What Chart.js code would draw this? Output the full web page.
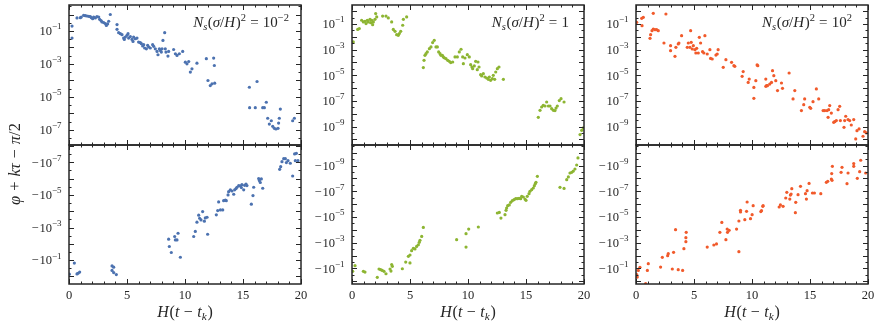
<!DOCTYPE html>
<html><head><meta charset="utf-8">
<script src="https://cdn.jsdelivr.net/npm/chart.js@4.4.0/dist/chart.umd.min.js"></script>
<style>
html,body{margin:0;padding:0;background:#fff;}
#wrap{position:relative;width:881px;height:328px;overflow:hidden;}
#wrap canvas{position:absolute;left:0;top:0;}
</style></head><body>
<div id="wrap">
<canvas id="c0" width="881" height="328"></canvas>
<canvas id="c1" width="881" height="328"></canvas>
<canvas id="c2" width="881" height="328"></canvas>
<canvas id="c3" width="881" height="328"></canvas>
<canvas id="c4" width="881" height="328"></canvas>
<canvas id="c5" width="881" height="328"></canvas>
</div>
<script>
// ---------------- DATA ----------------
// x = H(t - t_k); values below are log10 of (φ + kτ − π/2) for the upper row,
// and log10 of |φ + kτ − π/2| (negative branch) for the lower row.

// N_s(σ/H)^2 = 10^-2  (blue)
const hBlueUpper = [0.26,0.26,0.69,0.98,1.06,1.26,1.41,1.55,1.70,1.84,1.93,2.04,2.13,2.27,2.41,2.56,2.64,2.76,2.84,2.99,3.13,3.22,3.33,3.42,3.56,4.14,4.14,4.28,4.43,4.57,4.71,4.77,4.86,5.00,5.09,5.14,5.29,5.43,5.52,5.57,5.72,5.86,6.00,6.15,6.24,6.35,6.44,6.52,6.67,6.78,6.87,7.01,7.21,7.30,7.44,7.59,7.67,7.79,7.87,7.96,8.02,8.10,8.25,8.30,8.36,8.53,8.59,9.02,9.17,9.31,9.51,9.80,10.03,10.17,10.32,10.46,10.60,11.03,11.84,11.98,12.18,12.33,12.47,12.53,12.56,15.55,15.57,16.06,16.21,16.70,16.84,17.01,17.13,17.27,17.44,17.56,17.70,17.84,18.02,18.07,18.13,18.22,19.28,19.43];
const expBlueUpper = [-1.43,-0.70,-0.21,-0.19,-0.15,-0.05,-0.07,-0.09,-0.11,-0.13,-0.19,-0.25,-0.15,-0.21,-0.13,-0.15,-0.29,-0.37,-0.45,-0.49,-0.55,-0.66,-0.57,-0.41,0.0,-0.61,-0.90,-1.10,-1.16,-1.22,-1.43,-1.51,-1.37,-1.26,-1.16,-1.43,-1.34,-1.51,-1.63,-1.37,-1.47,-1.43,-1.67,-1.71,-1.77,-1.91,-1.83,-2.03,-2.08,-1.87,-1.97,-2.03,-1.83,-1.93,-2.08,-2.24,-2.44,-2.08,-2.18,-2.28,-2.08,-1.57,-1.10,-2.08,-2.28,-2.52,-2.24,-2.12,-2.38,-2.48,-2.38,-2.24,-2.89,-2.99,-2.85,-3.49,-3.29,-2.95,-2.68,-4.00,-4.31,-4.20,-2.64,-3.09,-4.16,-4.41,-5.65,-5.65,-4.06,-5.65,-5.65,-5.32,-6.29,-6.64,-6.44,-6.78,-6.90,-6.94,-6.90,-6.58,-6.29,-5.73,-6.44,-6.29];
const hBlueLower = [0.03,0.46,0.69,0.78,0.92,3.71,3.85,3.71,3.85,4.08,8.59,8.65,8.82,9.11,9.17,9.31,9.40,9.60,10.75,10.89,11.03,11.18,11.26,11.38,11.52,11.67,11.75,11.90,11.95,12.70,12.82,12.90,13.05,13.25,13.33,13.48,13.56,13.71,13.76,13.91,14.05,14.20,14.28,14.40,14.48,14.63,14.77,14.86,14.91,15.06,15.14,15.26,15.34,15.72,15.86,15.92,16.35,16.41,16.49,16.58,16.70,18.16,18.25,18.36,18.51,18.65,18.74,18.88,19.08,19.28,19.45,19.60,19.51,19.74];
const expBlueLower = [-0.14,-0.82,-0.16,-0.20,-0.27,-0.65,-0.57,-0.37,-0.24,-0.12,-2.29,-1.84,-1.47,-2.45,-2.24,-2.24,-2.65,-1.18,-2.45,-2.76,-3.33,-3.76,-3.57,-3.47,-3.98,-3.39,-3.59,-3.63,-2.59,-3.78,-4.04,-4.57,-4.08,-4.08,-4.65,-4.69,-4.65,-5.00,-5.20,-5.31,-5.24,-5.04,-5.31,-5.39,-5.47,-5.57,-5.55,-5.45,-5.63,-5.31,-5.59,-5.67,-5.57,-4.43,-4.96,-5.47,-6.00,-5.88,-5.76,-5.98,-5.41,-6.57,-6.73,-7.04,-7.22,-7.22,-6.98,-7.10,-6.94,-6.16,-7.51,-7.55,-7.10,-7.10];

// N_s(σ/H)^2 = 1  (green)
const hGreenUpper = [0.11,0.49,0.63,0.83,0.98,1.12,1.21,1.32,1.40,1.55,1.61,1.70,1.78,1.84,1.98,2.04,2.13,2.64,2.93,3.13,3.42,3.56,3.71,3.85,3.99,4.08,4.20,4.37,4.43,4.71,6.15,6.21,6.29,6.38,6.49,6.67,6.81,6.95,7.09,7.24,7.36,7.47,7.59,7.67,7.79,7.87,7.96,8.10,8.25,8.39,8.51,8.68,8.88,9.08,9.25,9.40,9.54,9.60,9.74,9.94,10.11,10.23,10.34,10.40,10.54,10.66,10.80,10.86,10.95,11.09,11.18,11.32,11.46,11.61,11.75,11.84,11.95,12.10,12.18,12.30,12.39,12.53,12.67,13.05,16.06,16.21,16.35,16.49,16.64,16.78,16.93,17.07,17.21,17.36,17.50,17.59,17.70,17.87,18.02,18.28,19.66,19.80,19.94];
const expGreenUpper = [-2.40,-1.42,-1.36,-0.71,-0.84,-0.79,-0.97,-0.71,-0.84,-0.64,-0.90,-0.71,-1.05,-0.84,-0.64,-0.19,-0.45,-0.38,-0.38,-0.53,-0.84,-1.42,-1.57,-1.83,-1.88,-1.75,-1.57,-1.10,-0.64,-0.45,-4.40,-3.83,-3.44,-3.31,-3.18,-2.92,-2.79,-2.45,-2.27,-2.79,-2.79,-3.18,-3.31,-3.44,-3.44,-3.57,-3.64,-3.70,-3.83,-3.91,-4.01,-3.96,-3.57,-3.57,-3.18,-2.97,-3.57,-4.09,-3.65,-3.39,-3.57,-4.17,-4.35,-4.48,-4.27,-3.91,-4.56,-3.96,-4.35,-4.95,-5.05,-4.87,-5.13,-5.21,-5.31,-5.13,-5.39,-5.26,-5.00,-5.31,-4.74,-4.48,-4.35,-5.31,-8.27,-7.73,-7.47,-7.34,-7.39,-7.08,-7.39,-7.39,-7.60,-7.73,-7.75,-7.55,-7.39,-6.97,-6.82,-7.08,-9.62,-9.29,-9.10];
const hGreenLower = [0.06,0.26,0.98,1.12,2.18,2.33,2.47,2.61,2.76,2.93,3.28,3.36,3.42,3.48,4.34,4.63,5.00,4.86,5.00,5.14,5.29,5.43,5.57,5.72,5.80,5.86,6.01,6.15,9.02,9.83,9.83,10.06,10.89,12.53,12.70,12.84,13.19,13.28,13.33,13.42,13.56,13.68,13.82,13.97,14.11,14.25,14.40,14.54,14.63,14.77,14.91,15.00,15.11,15.26,15.34,15.49,15.63,15.72,15.80,15.86,15.98,17.93,18.28,18.51,18.65,18.79,18.94,19.08,19.22,19.37,19.48];
const expGreenLower = [-0.77,-1.21,-0.77,-0.71,-0.30,-0.95,-0.90,-0.84,-0.77,-0.58,-0.95,-0.79,-1.29,-1.16,-0.97,-1.49,-1.42,-1.94,-2.04,-2.38,-2.56,-2.51,-2.71,-2.84,-3.03,-3.18,-3.49,-4.19,-3.23,-2.66,-3.70,-4.06,-4.22,-5.31,-5.36,-4.92,-5.18,-5.52,-5.70,-5.88,-5.94,-6.14,-6.27,-6.35,-6.43,-6.43,-6.45,-6.43,-6.61,-6.56,-6.40,-6.30,-6.61,-6.82,-7.00,-7.13,-7.26,-7.44,-7.60,-7.70,-8.17,-7.31,-7.23,-7.91,-8.12,-8.43,-8.48,-8.58,-8.74,-9.05,-9.60];

// N_s(σ/H)^2 = 10^2  (orange)
const hOrangeUpper = [0.06,0.49,0.63,0.52,1.21,1.26,1.38,1.49,1.49,1.64,1.78,1.92,2.58,2.41,2.98,2.98,3.36,3.44,3.64,3.70,3.93,4.42,4.51,4.65,4.71,4.76,4.85,4.94,5.08,5.16,5.23,5.37,5.46,5.57,5.74,5.85,5.94,6.14,6.37,6.43,6.57,6.89,7.00,7.08,7.52,7.75,8.24,8.44,8.52,9.15,9.24,9.67,9.76,10.16,10.16,10.33,10.44,10.50,11.19,11.19,11.25,11.33,11.53,11.68,11.77,11.88,12.05,12.20,12.54,12.63,13.20,13.54,13.69,14.26,14.46,14.54,14.98,15.06,15.26,15.55,15.75,16.13,16.27,16.47,16.56,16.61,16.70,16.84,17.04,17.13,17.27,17.42,17.56,17.62,17.93,17.99,18.08,18.28,18.42,18.56,18.77,18.94,19.05,19.23,19.57,19.71,19.86];
const expOrangeUpper = [-0.87,-0.56,-0.48,-1.13,-2.12,-1.83,-1.52,-0.17,-1.39,-1.44,-1.44,-1.52,-0.22,-2.48,-2.69,-3.08,-3.52,-2.82,-2.56,-2.48,-1.91,-2.82,-2.48,-2.82,-1.52,-2.43,-2.95,-2.69,-3.00,-3.26,-2.90,-3.26,-2.04,-2.48,-3.16,-3.26,-1.91,-3.34,-3.00,-3.68,-3.73,-3.42,-3.34,-3.00,-4.38,-3.78,-3.99,-4.25,-4.30,-5.08,-4.71,-5.55,-5.29,-5.94,-6.79,-5.42,-4.19,-4.25,-5.86,-5.29,-5.81,-5.81,-5.68,-5.55,-4.64,-5.03,-5.42,-6.19,-5.60,-6.01,-4.82,-6.84,-6.19,-7.75,-7.29,-6.84,-7.49,-7.57,-7.05,-6.06,-6.84,-7.75,-7.75,-7.75,-8.27,-7.68,-7.36,-7.94,-8.66,-8.61,-8.53,-7.68,-7.42,-8.53,-9.05,-8.53,-8.19,-8.45,-8.53,-8.87,-8.45,-9.96,-9.31,-9.18,-9.75,-9.39,-9.49];
const hOrangeLower = [0.06,0.11,0.20,0.34,0.98,1.06,0.83,2.12,2.27,2.73,2.78,3.13,3.24,3.41,3.64,4.13,4.30,4.30,4.33,4.02,6.14,6.71,6.94,7.23,7.40,7.75,7.86,7.89,8.03,8.67,8.87,8.87,9.01,9.01,9.38,9.53,9.58,9.87,10.01,10.10,10.76,10.82,10.93,10.96,12.34,12.45,12.68,12.91,13.00,13.26,13.31,13.37,13.43,13.77,13.74,13.97,14.18,14.61,14.69,14.75,14.92,15.21,15.38,15.93,16.41,16.53,16.84,16.87,16.93,16.90,17.68,17.76,18.19,18.28,18.77,18.77,19.08,19.28,19.37,19.80];
const expOrangeLower = [-0.51,-0.32,-0.84,-1.08,-0.84,-1.36,0.19,-1.10,-1.86,-1.99,-2.14,-0.95,-2.25,-4.01,-0.90,-2.53,-3.08,-3.39,-3.81,-0.84,-2.66,-2.82,-2.90,-3.81,-4.58,-3.23,-4.06,-3.81,-3.96,-4.06,-4.69,-2.30,-5.39,-5.52,-4.79,-5.44,-6.17,-4.87,-5.18,-5.88,-5.42,-5.49,-5.83,-5.88,-5.78,-5.94,-5.83,-6.48,-6.92,-6.40,-6.71,-6.79,-7.21,-6.14,-5.34,-6.74,-7.39,-6.82,-6.40,-7.05,-7.62,-6.87,-6.87,-6.82,-7.70,-7.78,-7.96,-8.38,-8.95,-7.86,-8.48,-8.87,-7.60,-8.43,-8.95,-9.16,-8.01,-8.53,-9.42,-8.43];

// Tick labels
const xTickLabels = [0, 5, 10, 15, 20];
const upperTickExpsLeft = [-1, -3, -5, -7];
const upperTickExpsOther = [-1, -3, -5, -7, -9];
const lowerTickExpsLeft = [-7, -5, -3, -1];
const lowerTickExpsOther = [-9, -7, -5, -3, -1];
const noteExponents = ['−2', '', '2'];   // N_s(σ/H)^2 = 10^-2, 1, 10^2

// ---------------- STYLE / LAYOUT ----------------
const FONT = '"Liberation Serif", "DejaVu Serif", serif';
const INK = '#262626';
const COLORS = ['#4c72b0', '#8db532', '#f15a2b'];
const COLS = [[69, 301], [352, 584], [636, 868]];
const ROW_UP = [5, 145], ROW_LO = [145, 284];

// segs: [text, italic, scale, dy(em)] or a number = gap in em
function drawRich(ctx, segs, x, y, align, size) {
  let w = 0;
  const m = segs.map(s => {
    if (typeof s === 'number') { w += s * size; return { gap: s * size }; }
    const fs = size * (s[2] || 1);
    const f = (s[1] ? 'italic ' : '') + fs.toFixed(2) + 'px ' + FONT;
    ctx.font = f;
    const ww = ctx.measureText(s[0]).width;
    w += ww;
    return { t: s[0], f, ww, dy: (s[3] || 0) * size };
  });
  let cx = align === 'right' ? x - w : align === 'center' ? x - w / 2 : x;
  ctx.textBaseline = 'alphabetic';
  ctx.textAlign = 'left';
  m.forEach(s => {
    if (s.gap !== undefined) { cx += s.gap; return; }
    ctx.font = s.f; ctx.fillText(s.t, cx, y + s.dy); cx += s.ww;
  });
  return w;
}

function makeDeco(p) {
  return {
    id: 'deco' + p.id,
    afterDraw(chart) {
      const ctx = chart.ctx, a = chart.chartArea;
      const xs = chart.scales.x, ys = chart.scales.y;
      ctx.save();
      ctx.strokeStyle = INK;
      ctx.fillStyle = INK;
      ctx.lineWidth = 1;
      for (let v = 0; v <= 20; v++) {
        const px = Math.round(xs.getPixelForValue(v)) + 0.5;
        const len = v % 5 === 0 ? 5 : 2.5;
        ctx.beginPath();
        ctx.moveTo(px, a.bottom); ctx.lineTo(px, a.bottom - len);
        ctx.moveTo(px, a.top); ctx.lineTo(px, a.top + len);
        ctx.stroke();
      }
      const e0 = Math.ceil(p.lo * 2) / 2, e1 = Math.floor(p.hi * 2) / 2;
      for (let e = e0; e <= e1 + 1e-9; e += 0.5) {
        const py = Math.round(ys.getPixelForValue(Math.pow(10, e))) + 0.5;
        const len = Number.isInteger(e) ? 5 : 2.5;
        ctx.beginPath();
        ctx.moveTo(a.left, py); ctx.lineTo(a.left + len, py);
        ctx.moveTo(a.right, py); ctx.lineTo(a.right - len, py);
        ctx.stroke();
      }
      ctx.lineWidth = 1.5;
      ctx.strokeRect(a.left, a.top, a.right - a.left, a.bottom - a.top);
      p.tickExps.forEach(n => {
        const py = ys.getPixelForValue(Math.pow(10, n));
        const segs = p.lower
          ? [['−', false], 0.06, ['10', false], ['−' + Math.abs(n), false, 0.72, -0.47]]
          : [['10', false], ['−' + Math.abs(n), false, 0.72, -0.47]];
        drawRich(ctx, segs, a.left - 7.5, py + 4.3, 'right', 12.5);
      });
      if (p.lower) {
        ctx.font = '12.5px ' + FONT;
        ctx.textAlign = 'center';
        ctx.textBaseline = 'alphabetic';
        xTickLabels.forEach(v => {
          ctx.fillText(String(v), xs.getPixelForValue(v), a.bottom + 14.5);
        });
        drawRich(ctx, [['H', true], 0.05, ['(', false], ['t', true], 0.28, ['−', false], 0.28, ['t', true],
          ['k', true, 0.7, 0.22], 0.04, [')', false]], (a.left + a.right) / 2, 316.5, 'center', 16);
      }
      if (!p.lower) {
        const segs = [['N', true], ['s', true, 0.7, 0.22], 0.03, ['(', false], ['σ', true], ['/', false],
          ['H', true], 0.04, [')', false], ['2', false, 0.7, -0.42], 0.28, ['=', false], 0.28];
        if (p.noteExp === '') segs.push(['1', false]);
        else { segs.push(['10', false]); segs.push([p.noteExp, false, 0.7, -0.42]); }
        drawRich(ctx, segs, p.noteRight, 27, 'right', 15);
      }
      if (p.yTitle) {
        ctx.translate(20, 164);
        ctx.rotate(-Math.PI / 2);
        drawRich(ctx, [['φ', true], 0.3, ['+', false], 0.3, ['k', true], ['τ', true], 0.3, ['−', false], 0.3,
          ['π', true], ['/', false], ['2', false]], 0, 0, 'center', 16.5);
      }
      ctx.restore();
    }
  };
}

const panels = [
  { id: 'c0', xs: hBlueUpper, es: expBlueUpper, color: COLORS[0], lower: false, col: 0, lo: -7.91, hi: 0.576, tickExps: upperTickExpsLeft, noteExp: noteExponents[0], noteRight: 289 },
  { id: 'c1', xs: hBlueLower, es: expBlueLower, color: COLORS[0], lower: true, col: 0, lo: -8.06, hi: 0.46, tickExps: lowerTickExpsLeft, yTitle: true },
  { id: 'c2', xs: hGreenUpper, es: expGreenUpper, color: COLORS[1], lower: false, col: 1, lo: -10.43, hi: 0.48, tickExps: upperTickExpsOther, noteExp: noteExponents[1], noteRight: 569 },
  { id: 'c3', xs: hGreenLower, es: expGreenLower, color: COLORS[1], lower: true, col: 1, lo: -10.61, hi: 0.22, tickExps: lowerTickExpsOther },
  { id: 'c4', xs: hOrangeUpper, es: expOrangeUpper, color: COLORS[2], lower: false, col: 2, lo: -10.43, hi: 0.48, tickExps: upperTickExpsOther, noteExp: noteExponents[2], noteRight: 852 },
  { id: 'c5', xs: hOrangeLower, es: expOrangeLower, color: COLORS[2], lower: true, col: 2, lo: -10.61, hi: 0.22, tickExps: lowerTickExpsOther }
];

panels.forEach(p => {
  const [L, R] = COLS[p.col];
  const [T, B] = p.lower ? ROW_LO : ROW_UP;
  const pts = p.xs.map((x, i) => ({ x, y: Math.pow(10, p.es[i]) }));
  new Chart(document.getElementById(p.id), {
    type: 'scatter',
    data: { datasets: [{ data: pts, backgroundColor: p.color, borderWidth: 0, pointRadius: 1.6, pointHoverRadius: 1.6 }] },
    options: {
      responsive: false, animation: false, devicePixelRatio: 1,
      layout: { padding: { left: L, right: 881 - R, top: T, bottom: 328 - B } },
      plugins: { legend: { display: false }, tooltip: { enabled: false } },
      events: [],
      scales: {
        x: { type: 'linear', min: 0, max: 20, display: false },
        y: { type: 'logarithmic', min: Math.pow(10, p.lo), max: Math.pow(10, p.hi), reverse: p.lower, display: false }
      }
    },
    plugins: [makeDeco(p)]
  });
});
</script>
</body></html>
